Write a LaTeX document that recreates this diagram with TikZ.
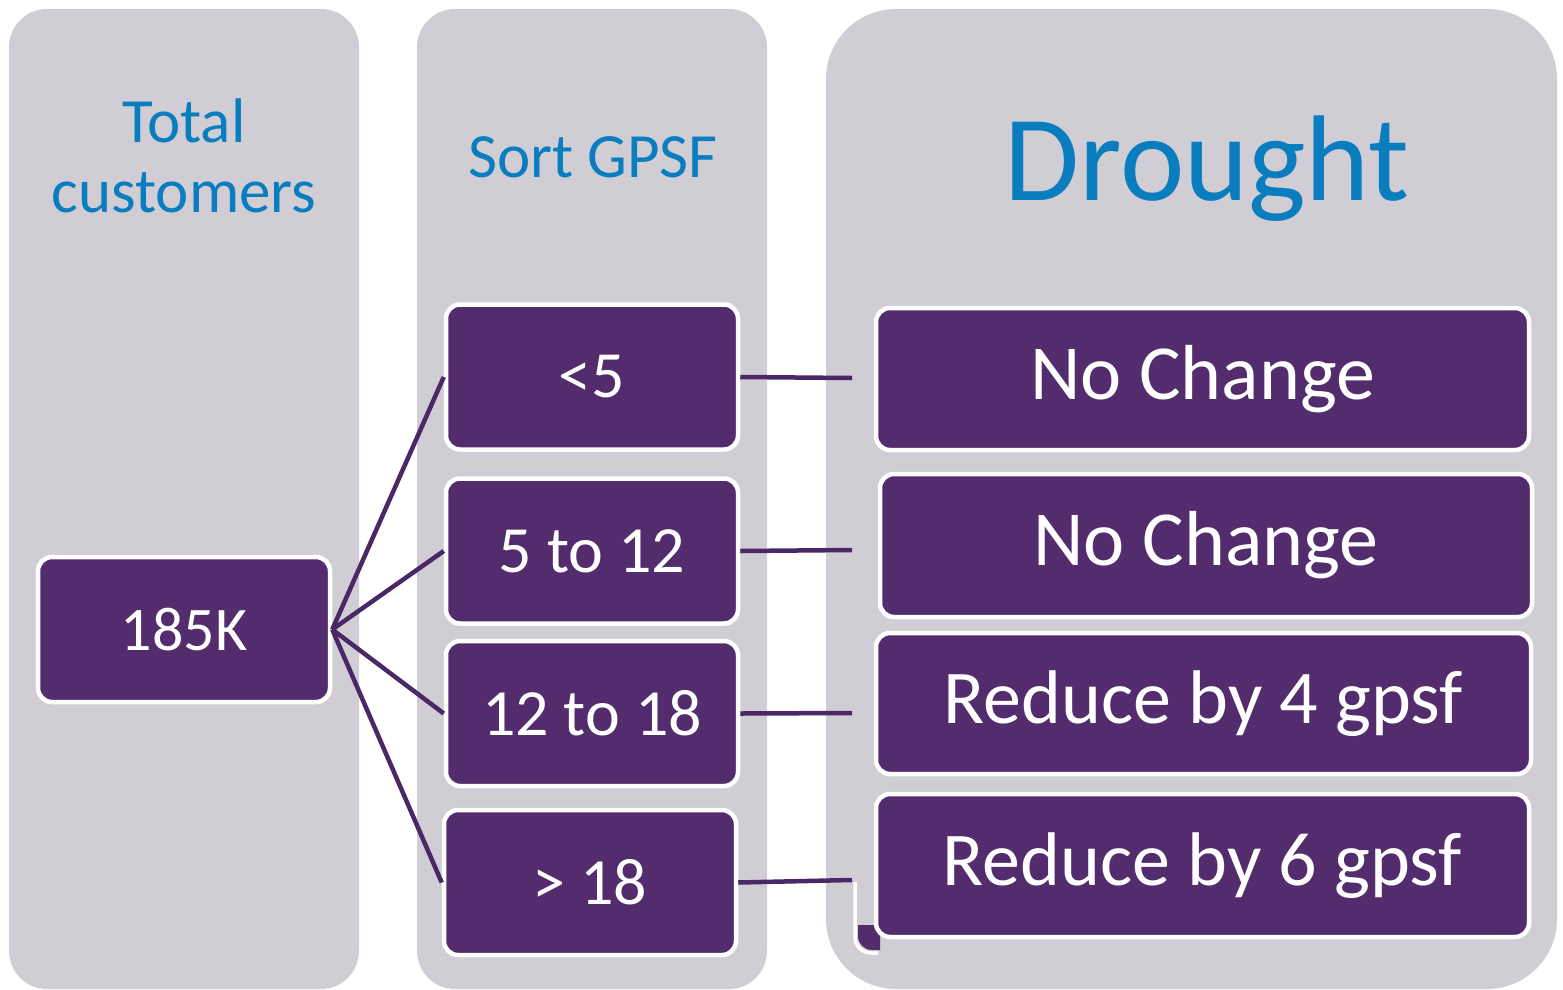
\documentclass[tikz,border=0pt]{standalone}
\usepackage{fontspec}
\setmainfont{Carlito}
\definecolor{colgrey}{HTML}{D0CDD5}
\definecolor{titleblue}{HTML}{0A7DBE}
\definecolor{boxpurple}{HTML}{532C6D}
\definecolor{linepurple}{HTML}{4A2865}
\tikzset{
  colbox/.style={fill=colgrey},
  pbox/.style={rectangle, rounded corners=14pt, fill=boxpurple, draw=white, line width=4.5pt,
    inner sep=0pt, text=white, align=center},
  smallbox/.style={pbox, minimum width=292pt, minimum height=145pt, font=\fontsize{66}{70}\selectfont},
  bigbox/.style={pbox, minimum width=653pt, minimum height=142pt, font=\fontsize{78}{82}\selectfont},
  conn/.style={draw=linepurple, line width=4.5pt},
  title/.style={text=titleblue, inner sep=0pt, anchor=base}
}
\begin{document}
\begin{tikzpicture}[x=1pt,y=-1pt]
\useasboundingbox (0,0) rectangle (1563,989);
% columns
\fill[colbox, rounded corners=38pt] (9,9) rectangle (359,989);
\fill[colbox, rounded corners=38pt] (417,9) rectangle (767,989);
\fill[colbox, rounded corners=70pt] (826,9) rectangle (1557,989);
% titles
\node[title, font=\fontsize{63}{70}\selectfont] (t1a) at (184,142) {Total};
\node[title, font=\fontsize{63}{70}\selectfont] (t1b) at (184,212) {customers};
\node[title, font=\fontsize{63}{70}\selectfont] (t2) at (593,177) {Sort GPSF};
\node[title, font=\fontsize{122}{130}\selectfont] (t3) at (1207,200) {Drought};
% stray box corner behind last box
\fill[boxpurple] (858,925) [rounded corners=14pt] -- (858,950) [sharp corners] -- (880,950) -- (880,925) -- cycle;
\draw[white, line width=3.5pt, rounded corners=16pt] (855,882) -- (855,953) -- (878,953);
% boxes
\node[smallbox, font=\fontsize{62}{66}\selectfont] (k) at (184,629.5) {185K};
\node[smallbox] (b1) at (592,377) {<5};
\node[smallbox] (b2) at (592,551) {5 to 12};
\node[smallbox] (b3) at (592,713.5) {12 to 18};
\node[smallbox] (b4) at (590,882.5) {> 18};
\node[bigbox] (d1) at (1202.5,379) {No Change};
\node[bigbox, minimum width=652pt, minimum height=143pt] (d2) at (1206,545.5) {No Change};
\node[bigbox, minimum width=655pt, minimum height=141pt, font=\fontsize{76}{80}\selectfont] (d3) at (1203.5,703.5) {Reduce by 4 gpsf};
\node[bigbox, minimum height=143pt, font=\fontsize{76}{80}\selectfont] (d4) at (1202.5,865.5) {Reduce by 6 gpsf};
% connector free ends
\coordinate (e1) at (852,378);
\coordinate (e2) at (852,550);
\coordinate (e3) at (852,713);
\coordinate (e4) at (852,880);
% connectors
\draw[conn] (k.east) -- (b1.west);
\draw[conn] (k.east) -- (b2.west);
\draw[conn] (k.east) -- (b3.west);
\draw[conn] (k.east) -- (b4.west);
\draw[conn] (b1.east) -- (e1);
\draw[conn] (b2.east) -- (e2);
\draw[conn] (b3.east) -- (e3);
\draw[conn] (b4.east) -- (e4);
\end{tikzpicture}
\end{document}
